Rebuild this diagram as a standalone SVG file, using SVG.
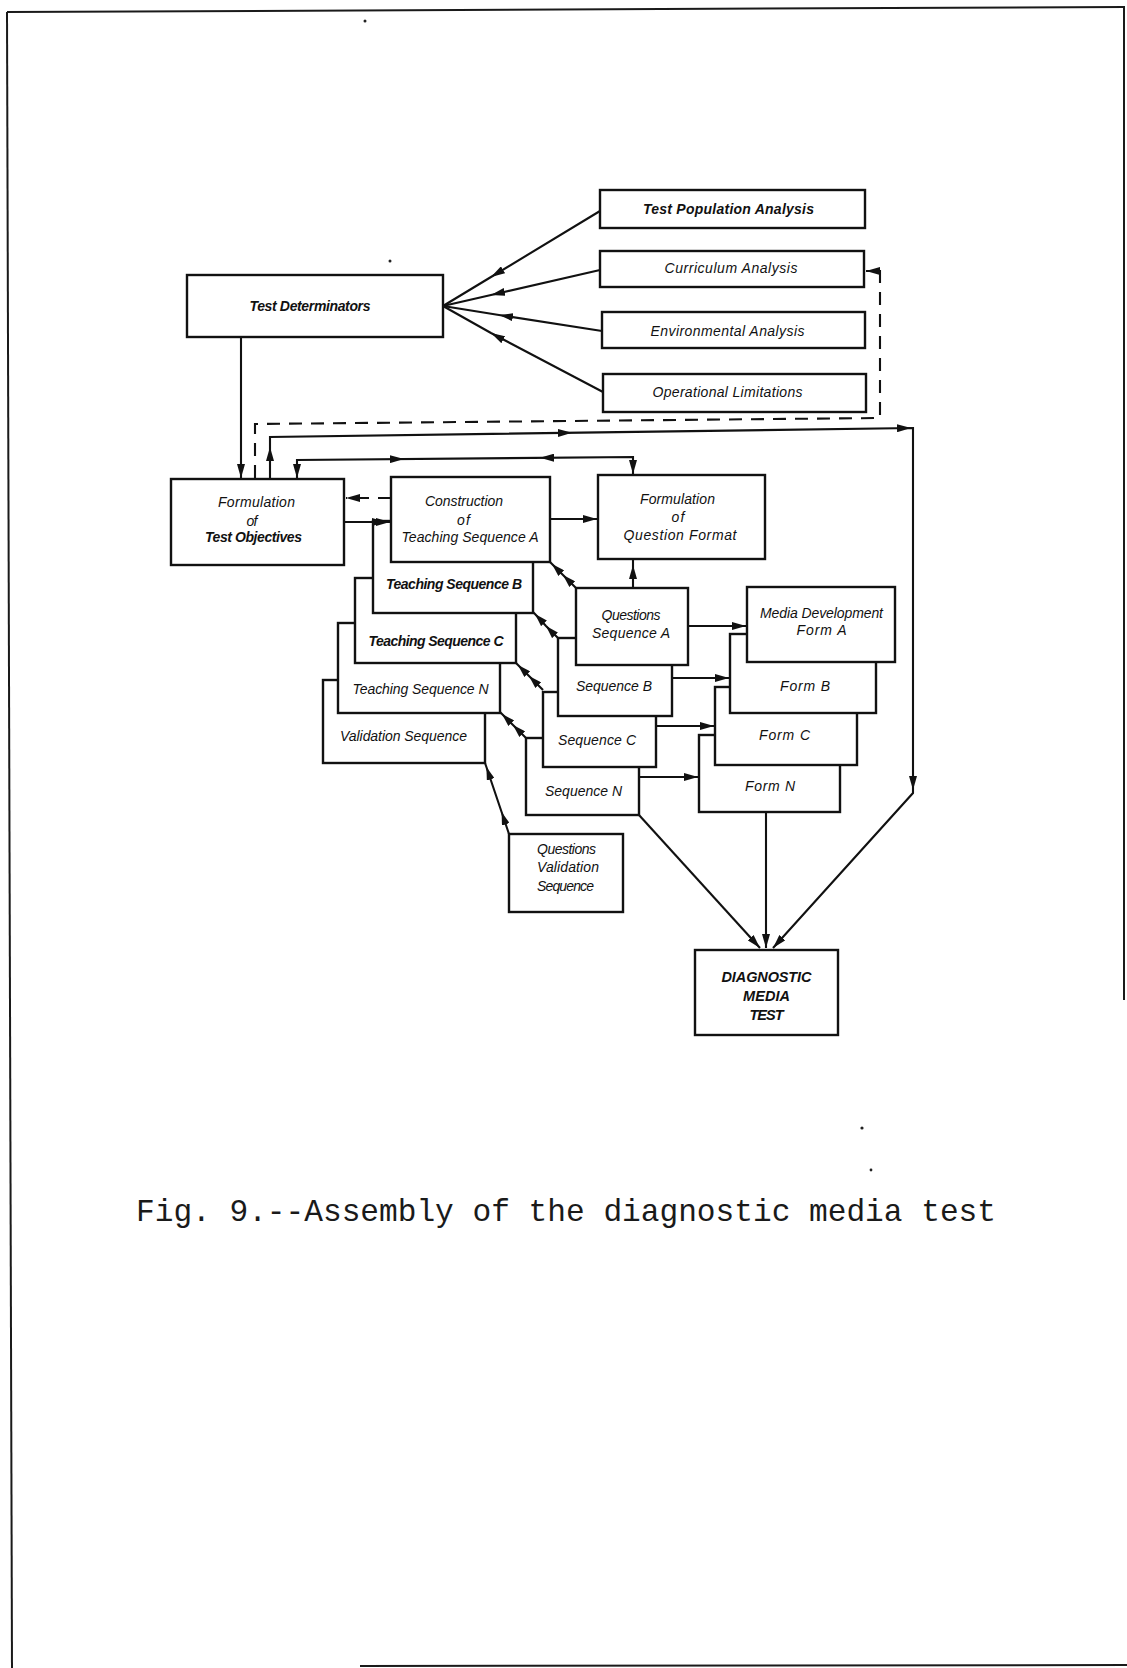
<svg xmlns="http://www.w3.org/2000/svg" width="1127" height="1668" viewBox="0 0 1127 1668">
  <style>
    .page { fill: none; stroke: #1a1a1a; stroke-width: 2; }
    .box { fill: #fff; stroke: #111; stroke-width: 2.4; }
    .ln { fill: none; stroke: #111; stroke-width: 2.1; }
    .dsh { stroke-dasharray: 13 9; }
    .end { marker-end: url(#ah); }
    .mid { marker-mid: url(#ah); }
    .wmid { marker-mid: url(#wg); }
    .hd { fill: none; stroke: none; marker-end: url(#ah); }
    .t { font-family: "Liberation Sans", Arial, sans-serif; font-style: italic; font-size: 14px; fill: #111; text-anchor: middle; }
    .l { text-anchor: start; }
    .b { font-weight: bold; }
    .big { font-size: 14.5px; font-weight: bold; }
    .cap { font-family: "Liberation Mono", "Courier New", monospace; font-size: 31.2px; fill: #1a1a1a; }
    .speck { fill: #222; }
  </style>
  <defs>
    <marker id="ah" viewBox="0 0 14 8" refX="14" refY="4" markerWidth="14" markerHeight="8" markerUnits="userSpaceOnUse" orient="auto">
      <path d="M0,0 L14,4 L0,8 z" fill="#111"/>
    </marker>
    <marker id="wg" viewBox="0 0 13 8" refX="13" refY="4" markerWidth="13" markerHeight="8" markerUnits="userSpaceOnUse" orient="auto">
      <path d="M0,0 L13,4 L0,8 z" fill="#111"/>
    </marker>
  </defs>

  <rect width="1127" height="1668" fill="#fff"/>

  <!-- page frame -->
  <g id="frame">
    <path class="page" d="M7,12 L1125,7"/>
    <path class="page" d="M7,12 L12,1668"/>
    <path class="page" d="M1124,7 L1124,1000"/>
    <path class="page" d="M360,1666 L1127,1665"/>
    <circle class="speck" cx="365" cy="21" r="1.5"/>
    <circle class="speck" cx="390" cy="261" r="1.5"/>
    <circle class="speck" cx="862" cy="1128" r="1.6"/>
    <circle class="speck" cx="871" cy="1170" r="1.4"/>
  </g>

  <!-- analysis boxes feeding the test determinators -->
  <g id="test-population-analysis">
    <rect class="box" x="600" y="190" width="265" height="38"/>
    <text class="t b" x="728.5" y="214" textLength="171">Test Population Analysis</text>
  </g>
  <g id="curriculum-analysis">
    <rect class="box" x="600" y="251" width="264" height="36"/>
    <text class="t" x="731" y="273" textLength="133">Curriculum Analysis</text>
  </g>
  <g id="environmental-analysis">
    <rect class="box" x="602" y="312" width="263" height="36"/>
    <text class="t" x="727.5" y="336" textLength="154">Environmental Analysis</text>
  </g>
  <g id="operational-limitations">
    <rect class="box" x="603" y="374" width="263" height="38"/>
    <text class="t" x="727.5" y="397" textLength="150">Operational Limitations</text>
  </g>
  <g id="test-determinators">
    <rect class="box" x="187" y="275" width="256" height="62"/>
    <text class="t b" x="310" y="311" textLength="121">Test Determinators</text>
  </g>

  <g id="formulation-test-objectives">
    <rect class="box" x="171" y="479" width="173" height="86"/>
    <text class="t" x="256.5" y="507" textLength="77">Formulation</text>
    <text class="t" x="252" y="526" textLength="11">of</text>
    <text class="t b" x="253.5" y="542" textLength="97">Test Objectives</text>
  </g>

  <!-- teaching sequences, back to front -->
  <g id="validation-sequence">
    <rect class="box" x="323" y="680" width="162" height="83"/>
    <text class="t" x="403.5" y="741" textLength="127">Validation Sequence</text>
  </g>
  <g id="teaching-sequence-n">
    <rect class="box" x="338" y="623" width="162" height="90"/>
    <text class="t" x="420.5" y="694" textLength="136">Teaching Sequence N</text>
  </g>
  <g id="teaching-sequence-c">
    <rect class="box" x="355" y="578" width="161" height="85"/>
    <text class="t b" x="436" y="646" textLength="135">Teaching Sequence C</text>
  </g>
  <g id="teaching-sequence-b">
    <rect class="box" x="373" y="521" width="160" height="92"/>
    <text class="t b" x="454" y="589" textLength="136">Teaching Sequence B</text>
  </g>
  <g id="teaching-sequence-a">
    <rect class="box" x="391" y="477" width="159" height="85"/>
    <text class="t" x="464" y="506" textLength="78">Construction</text>
    <text class="t" x="463.5" y="525" textLength="13">of</text>
    <text class="t" x="470" y="542" textLength="137">Teaching Sequence A</text>
  </g>

  <g id="question-format">
    <rect class="box" x="598" y="475" width="167" height="84"/>
    <text class="t" x="677.5" y="504" textLength="75">Formulation</text>
    <text class="t" x="678" y="522" textLength="13">of</text>
    <text class="t" x="680" y="540" textLength="113">Question Format</text>
  </g>

  <!-- question sequences, back to front -->
  <g id="sequence-n">
    <rect class="box" x="526" y="738" width="113" height="77"/>
    <text class="t" x="583.5" y="796" textLength="77">Sequence N</text>
  </g>
  <g id="sequence-c">
    <rect class="box" x="543" y="692" width="113" height="75"/>
    <text class="t" x="597" y="745" textLength="78">Sequence C</text>
  </g>
  <g id="sequence-b">
    <rect class="box" x="558" y="638" width="114" height="78"/>
    <text class="t" x="614" y="691" textLength="76">Sequence B</text>
  </g>
  <g id="questions-sequence-a">
    <rect class="box" x="576" y="588" width="112" height="77"/>
    <text class="t" x="631" y="620" textLength="59">Questions</text>
    <text class="t" x="631" y="638" textLength="78">Sequence A</text>
  </g>

  <!-- media development forms, back to front -->
  <g id="form-n">
    <rect class="box" x="699" y="735" width="141" height="77"/>
    <text class="t" x="770" y="791" textLength="50">Form N</text>
  </g>
  <g id="form-c">
    <rect class="box" x="715" y="687" width="142" height="78"/>
    <text class="t" x="784.5" y="740" textLength="51">Form C</text>
  </g>
  <g id="form-b">
    <rect class="box" x="730" y="634" width="146" height="79"/>
    <text class="t" x="805" y="691" textLength="50">Form B</text>
  </g>
  <g id="media-development-form-a">
    <rect class="box" x="747" y="587" width="148" height="75"/>
    <text class="t" x="821.5" y="618" textLength="123">Media Development</text>
    <text class="t" x="821.5" y="635" textLength="50">Form A</text>
  </g>

  <g id="questions-validation-sequence">
    <rect class="box" x="509" y="834" width="114" height="78"/>
    <text class="t l" x="537" y="854" textLength="59">Questions</text>
    <text class="t l" x="537" y="872" textLength="62">Validation</text>
    <text class="t l" x="537" y="891" textLength="57">Sequence</text>
  </g>

  <g id="diagnostic-media-test">
    <rect class="box" x="695" y="950" width="143" height="85"/>
    <text class="t big" x="766.5" y="982" textLength="90">DIAGNOSTIC</text>
    <text class="t big" x="766.5" y="1001" textLength="47">MEDIA</text>
    <text class="t big" x="766.5" y="1020" textLength="34">TEST</text>
  </g>

  <!-- connectors -->
  <g id="connectors">
    <!-- analyses into test determinators -->
    <path class="ln mid" d="M600,211 L491,277 L443,306"/>
    <path class="ln mid" d="M600,270 L491,295 L443,306"/>
    <path class="ln mid" d="M602,331 L499,315 L443,306"/>
    <path class="ln mid" d="M603,392 L491,333 L443,306"/>

    <!-- determinators down to objectives -->
    <path class="ln end" d="M241,337 L241,478"/>

    <!-- dashed feedback to curriculum analysis -->
    <path class="ln dsh end" d="M255,478 L255,424 L880,418 L880,271 L866,271"/>

    <!-- outer loop: objectives to the final test -->
    <path class="ln end" d="M270,478 L270,437 L913,428 L913,793 L773,948"/>
    <path class="hd" d="M270,462 L270,447"/>
    <path class="hd" d="M540,433.2 L572,432.8"/>
    <path class="hd" d="M880,428.5 L911,428"/>
    <path class="hd" d="M913,760 L913,790"/>

    <!-- inner loop: objectives and question format -->
    <path class="ln" d="M297,479 L297,460 L633,457 L633,475"/>
    <path class="hd" d="M297,463 L297,478"/>
    <path class="hd" d="M633,461 L633,474"/>
    <path class="hd" d="M380,459.2 L404,459"/>
    <path class="hd" d="M562,457.6 L540,457.8"/>

    <!-- objectives and teaching sequence A -->
    <path class="ln end" d="M344,522 L390,522"/>
    <path class="hd" d="M360,522 L386,522"/>
    <path class="ln dsh end" d="M391,498 L346,498"/>

    <!-- teaching sequence A to question format -->
    <path class="ln end" d="M550,519 L597,519"/>
    <!-- question sequence to question format -->
    <path class="ln" d="M633,560 L633,588"/>
    <path class="hd" d="M633,582 L633,565"/>

    <!-- teaching sequences and question sequences -->
    <path class="ln wmid" d="M576,588 L563,575 L552,564 L550,562"/>
    <path class="ln wmid" d="M558,638 L546,626 L535,614 L533,612"/>
    <path class="ln wmid" d="M543,690 L529,676 L518,665 L516,663"/>
    <path class="ln wmid" d="M526,738 L513,725 L502,714 L500,712"/>
    <path class="ln wmid" d="M509,834 L501.6,812 L486.4,767 L485,763"/>

    <!-- question sequences to media forms -->
    <path class="ln end" d="M688,626 L746,626"/>
    <path class="ln end" d="M672,678 L729,678"/>
    <path class="ln end" d="M656,726 L714,726"/>
    <path class="ln end" d="M639,777 L698,777"/>

    <!-- into the diagnostic media test -->
    <path class="ln end" d="M639,815 L760,948"/>
    <path class="ln end" d="M766,812 L766,948"/>
  </g>

  <text class="cap" x="136" y="1221" textLength="860">Fig. 9.--Assembly of the diagnostic media test</text>
</svg>
